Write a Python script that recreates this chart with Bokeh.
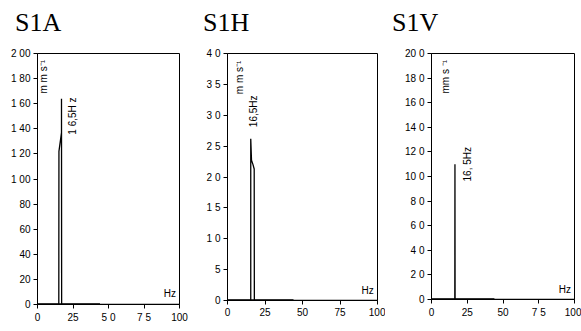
from bokeh.plotting import figure
from bokeh.layouts import row, column
from bokeh.models import Range1d, FixedTicker, Div
from bokeh.core.properties import value
from bokeh.embed import file_html
from bokeh.resources import INLINE
import math

# ---- data ----
titles = ["S1A", "S1H", "S1V"]
y_max = [200, 40, 200]

freq_a = [0, 15.0, 15.1, 16.9, 16.9, 17.0, 100]
amp_a = [0, 0, 122, 137, 164, 0, 0]
freq_h = [0, 15.5, 15.5, 16.0, 17.0, 17.8, 17.9, 100]
amp_h = [0, 0, 26.2, 22.7, 22.0, 21.3, 0, 0]
freq_v = [0, 16.3, 16.4, 16.5, 100]
amp_v = [0, 0, 110, 0, 0]
low_band = [0, 44]          # low-level noise band along the baseline (Hz)

x_ticks = [0, 25, 50, 75, 100]
x_labels = [
    ["0", "25", "5 0", "7 5", "100"],
    ["0", "25", "50", "75", "100"],
    ["0", "25", "50", "7 5", "100"],
]
y_ticks = [
    [0, 20, 40, 60, 80, 100, 120, 140, 160, 180, 200],
    [0, 5, 10, 15, 20, 25, 30, 35, 40],
    [0, 20, 40, 60, 80, 100, 120, 140, 160, 180, 200],
]
y_labels = [
    ["0", "20", "40", "60", "80", "1 00", "1 20", "1 40", "1 60", "1 80", "2 00"],
    ["0", "5", "1 0", "1 5", "2 0", "2 5", "3 0", "3 5", "4 0"],
    ["0", "2 0", "4 0", "6 0", "8 0", "10 0", "12 0", "14 0", "16 0", "18 0", "20 0"],
]
unit_texts = ["m m  s\u207b\u00b9", "m m  s\u207b\u00b9", "mm  s \u207b\u00b9"]
peak_texts = ["1 6,5H z", "16,5Hz", "16, 5Hz"]
unit_pos = [(4.4, 197), (8.0, 39.3), (9.5, 197)]
peak_pos = [(24.5, 165), (17.4, 33.2), (25.0, 124)]

series = [(freq_a, amp_a), (freq_h, amp_h), (freq_v, amp_v)]

# ---- layout (pixels) ----
widths = [190, 195, 196]
borders_left = [37, 37, 46]
borders_right = [11, 8, 7]
borders_bottom = [27, 31, 32]
title_left = [15, 13, 7]
DIV_H = 40
H = 331 - DIV_H

FONT = "Liberation Sans"

cols = []
for i in range(3):
    inner = (f'<div style="font-family:\'Liberation Serif\',serif;font-size:26px;'
             f'line-height:26px;color:black;margin:0;padding:10px 0 0 {title_left[i]}px;'
             f'white-space:nowrap">{titles[i]}</div>')
    head = Div(text=inner, width=widths[i], height=DIV_H,
               styles={"margin": "0", "padding": "0", "overflow": "visible"})
    p = figure(width=widths[i], height=H, output_backend="svg", toolbar_location=None,
               x_range=Range1d(0, 100), y_range=Range1d(0, y_max[i]),
               min_border_left=borders_left[i], min_border_right=borders_right[i],
               min_border_top=53 - DIV_H, min_border_bottom=borders_bottom[i])
    p.grid.visible = False
    p.outline_line_color = "black"
    p.outline_line_width = 1
    p.background_fill_color = "white"
    p.border_fill_color = "white"

    for ax in (p.xaxis[0], p.yaxis[0]):
        ax.axis_line_color = "black"
        ax.major_tick_line_color = "black"
        ax.minor_tick_line_color = None
        ax.major_tick_out = 4
        ax.major_tick_in = 0
        ax.major_label_text_font = FONT
        ax.major_label_text_font_size = "10px"
        ax.major_label_text_color = "black"
        ax.axis_label_standoff = 0
    p.xaxis.major_label_standoff = 3
    p.yaxis.major_label_standoff = 3
    p.xaxis.ticker = FixedTicker(ticks=x_ticks)
    p.yaxis.ticker = FixedTicker(ticks=y_ticks[i])
    p.xaxis.major_label_overrides = {t: l for t, l in zip(x_ticks, x_labels[i])}
    p.yaxis.major_label_overrides = {t: l for t, l in zip(y_ticks[i], y_labels[i])}

    fx, fy = series[i]
    p.line(low_band, [0, 0], line_color="black", line_width=2.5)
    p.line(fx, fy, line_color="black", line_width=1.3)

    ux, uy = unit_pos[i]
    p.text([ux], [uy], text=[unit_texts[i]], angle=math.pi / 2,
           text_align="right", text_baseline="middle",
           text_font=value(FONT), text_font_size="10px", text_color="black")
    px, py = peak_pos[i]
    p.text([px], [py], text=[peak_texts[i]], angle=math.pi / 2,
           text_align="right", text_baseline="middle",
           text_font=value(FONT), text_font_size="10px", text_color="black")
    p.text([97.5], [y_max[i] * 0.02], text=["Hz"], text_align="right",
           text_baseline="bottom", text_font=value(FONT), text_font_size="10px",
           text_color="black")
    cols.append(column(head, p))

layout = row(*cols)
open("out.html", "w").write(file_html(layout, INLINE))
